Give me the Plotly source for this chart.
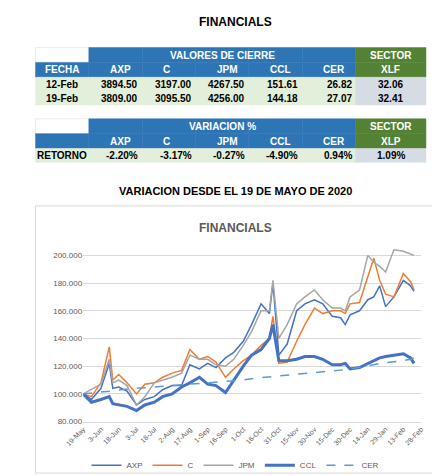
import plotly.graph_objects as go

# ---- table data
cols = ["AXP", "C", "JPM", "CCL", "CER"]
fechas = ["12-Feb", "19-Feb"]
cierre = [["3894.50", "3197.00", "4267.50", "151.61", "26.82"],
          ["3809.00", "3095.50", "4256.00", "144.18", "27.07"]]
xlf = ["32.06", "32.41"]
variacion = ["-2.20%", "-3.17%", "-0.27%", "-4.90%", "0.94%"]
xlp = "1.09%"

# ---- chart data
dates = ["2020-05-19", "2020-05-26", "2020-06-03", "2020-06-10", "2020-06-13", "2020-06-18",
         "2020-06-25", "2020-07-03", "2020-07-10", "2020-07-18", "2020-07-25", "2020-08-02",
         "2020-08-10", "2020-08-17", "2020-08-25", "2020-09-01", "2020-09-08", "2020-09-16",
         "2020-09-23", "2020-10-01", "2020-10-08", "2020-10-16", "2020-10-23", "2020-10-26",
         "2020-10-31", "2020-11-07", "2020-11-15", "2020-11-22", "2020-11-30", "2020-12-07",
         "2020-12-15", "2020-12-22", "2020-12-26", "2020-12-30", "2021-01-07", "2021-01-14",
         "2021-01-19", "2021-01-24", "2021-01-29", "2021-02-05", "2021-02-13", "2021-02-19",
         "2021-02-22"]
axp = [100, 96, 104, 122, 104, 105, 102, 92, 96, 98, 103, 106, 106, 121, 118, 122, 119, 126,
       130, 138, 150, 165, 158, 180, 128, 136, 160, 165, 168, 165, 156, 155, 150, 157, 160, 168,
       170, 178, 163, 170, 182, 178, 174]
c = [100, 98, 108, 134, 110, 114, 108, 100, 107, 108, 112, 115, 117, 132, 125, 127, 123, 112,
     118, 124, 128, 135, 140, 156, 122, 123, 138, 150, 162, 158, 160, 160, 158, 165, 166, 185,
     198, 182, 172, 170, 187, 181, 175]
jpm = [100, 103, 107, 125, 108, 110, 106, 92, 98, 108, 110, 112, 115, 128, 125, 125, 121, 120,
       125, 135, 145, 160, 160, 182, 140, 150, 165, 170, 175, 168, 162, 162, 160, 170, 175, 200,
       195, 192, 188, 204, 203, 201, 200]
ccl = [100, 94, 96, 98, 93, 92, 91, 88, 92, 94, 98, 100, 105, 108, 112, 107, 106, 101, 110, 120,
       128, 132, 140, 150, 124, 124, 125, 127, 127, 125, 121, 121, 122, 118, 119, 122, 124, 126,
       127, 128, 129, 126, 122]
cer = [100, 100.5, 101.5, 102, 102.5, 103, 103.5, 104, 104.5, 105, 105.5, 106, 106.5, 107,
       107.5, 108, 108.5, 109, 109.5, 110, 111, 111.5, 112, 112.5, 113, 113.5, 114, 115, 115.5,
       116, 116.5, 117, 117.5, 118, 119, 120, 121, 122, 122.5, 123, 124, 125, 126]

W, H = 440, 476
BLUE, GREEN, LGREEN, GRAY = "#2E75B6", "#548235", "#E2EFDA", "#D6DCE4"
FONT = "Liberation Sans"

def px(x):
    return x / W

def py(y):
    return 1 - y / H

shapes = []
annotations = []

def cell(x0, x1, y0, y1, fill, line="#D9D9D9"):
    shapes.append(dict(type="rect", xref="paper", yref="paper", x0=px(x0), x1=px(x1),
                       y0=py(y1), y1=py(y0), fillcolor=fill, line=dict(color=line, width=0.5),
                       layer="below"))

def text(x, y, s, color="black", anchor="center", size=10, bold=True):
    annotations.append(dict(xref="paper", yref="paper", x=px(x), y=py(y), text=f"<b>{s}</b>" if bold else s,
                            showarrow=False, xanchor=anchor, yanchor="middle",
                            font=dict(family=FONT, size=size, color=color)))

edges = [10, 66, 122, 178, 234, 290, 346, 420]

def header(y0):
    r0, r1 = (y0, y0 + 15), (y0 + 15, y0 + 30)
    cell(edges[0], edges[1], *r0, "white")
    for i in range(1, 6):
        cell(edges[i], edges[i + 1], *r0, BLUE, BLUE)
    for i in range(0, 6):
        cell(edges[i], edges[i + 1], *r1, BLUE, BLUE)
    cell(edges[6], edges[7], *r0, GREEN, GREEN)
    cell(edges[6], edges[7], *r1, GREEN, GREEN)
    for i, name in enumerate(cols):
        text(edges[i + 1] + 20, (r1[0] + r1[1]) / 2, name, "white", "left")
    text((edges[6] + edges[7]) / 2, (r0[0] + r0[1]) / 2, "SECTOR", "white")

text(220, 14, "FINANCIALS", size=12)

# table 1
header(40)
text((edges[1] + edges[6]) / 2, 47.5, "VALORES DE CIERRE", "white")
text((edges[0] + edges[1]) / 2, 62.5, "FECHA", "white")
text((edges[6] + edges[7]) / 2, 62.5, "XLF", "white")
for r, f in enumerate(fechas):
    y0 = 70 + r * 14
    for i in range(6):
        cell(edges[i], edges[i + 1], y0, y0 + 14, LGREEN, LGREEN)
    cell(edges[6], edges[7], y0, y0 + 14, GRAY, GRAY)
    text((edges[0] + edges[1]) / 2, y0 + 7, f)
    for i, v in enumerate(cierre[r]):
        text(edges[i + 2] - 2, y0 + 7, v, anchor="right")
    text((edges[6] + edges[7]) / 2, y0 + 7, xlf[r])

# table 2
header(112)
text((edges[1] + edges[6]) / 2, 119.5, "VARIACION %", "white")
text((edges[6] + edges[7]) / 2, 134.5, "XLP", "white")
for i in range(6):
    cell(edges[i], edges[i + 1], 142, 156, LGREEN, LGREEN)
cell(edges[6], edges[7], 142, 156, GRAY, GRAY)
text((edges[0] + edges[1]) / 2, 149, "RETORNO")
for i, v in enumerate(variacion):
    text(edges[i + 2] - 2, 149, v, anchor="right")
text((edges[6] + edges[7]) / 2, 149, xlp)

text(220, 185, "VARIACION DESDE EL 19 DE MAYO DE 2020", size=11)

# chart frame
shapes.append(dict(type="rect", xref="paper", yref="paper", x0=px(10), x1=px(430),
                   y0=py(470), y1=py(200), line=dict(color="#D9D9D9", width=1), layer="below"))
text(220, 222, "FINANCIALS", color="#595959", size=12)

fig = go.Figure()
fig.add_trace(go.Scatter(x=dates, y=axp, name="AXP", mode="lines", line=dict(color="#4472C4", width=1.5)))
fig.add_trace(go.Scatter(x=dates, y=c, name="C", mode="lines", line=dict(color="#ED7D31", width=1.5)))
fig.add_trace(go.Scatter(x=dates, y=jpm, name="JPM", mode="lines", line=dict(color="#A5A5A5", width=1.5)))
fig.add_trace(go.Scatter(x=dates, y=ccl, name="CCL", mode="lines", line=dict(color="#4472C4", width=3)))
fig.add_trace(go.Scatter(x=dates, y=cer, name="CER", mode="lines",
                         line=dict(color="#5B9BD5", width=1.5, dash="dash")))

fig.update_layout(
    width=W, height=H, margin=dict(l=0, r=0, t=0, b=0),
    paper_bgcolor="white", plot_bgcolor="white",
    font=dict(family=FONT, size=8, color="#595959"),
    shapes=shapes, annotations=annotations,
    xaxis=dict(domain=[px(60), px(415)], type="date", range=["2020-05-19", "2021-02-28"],
               tick0="2020-05-19", dtick=15 * 86400000, tickformat="%-d-%b", tickangle=-45,
               showgrid=False, showline=True, linecolor="#D9D9D9", ticks="", tickfont=dict(size=7)),
    yaxis=dict(domain=[py(418), py(243)], range=[80, 205], dtick=20, tickformat=".3f",
               gridcolor="#D9D9D9", zeroline=False, ticks="", tickfont=dict(size=8)),
    legend=dict(orientation="h", x=0.5, xanchor="center", y=py(462), yanchor="middle",
                font=dict(size=8), bgcolor="rgba(0,0,0,0)"),
)
fig.write_html("out.html")
